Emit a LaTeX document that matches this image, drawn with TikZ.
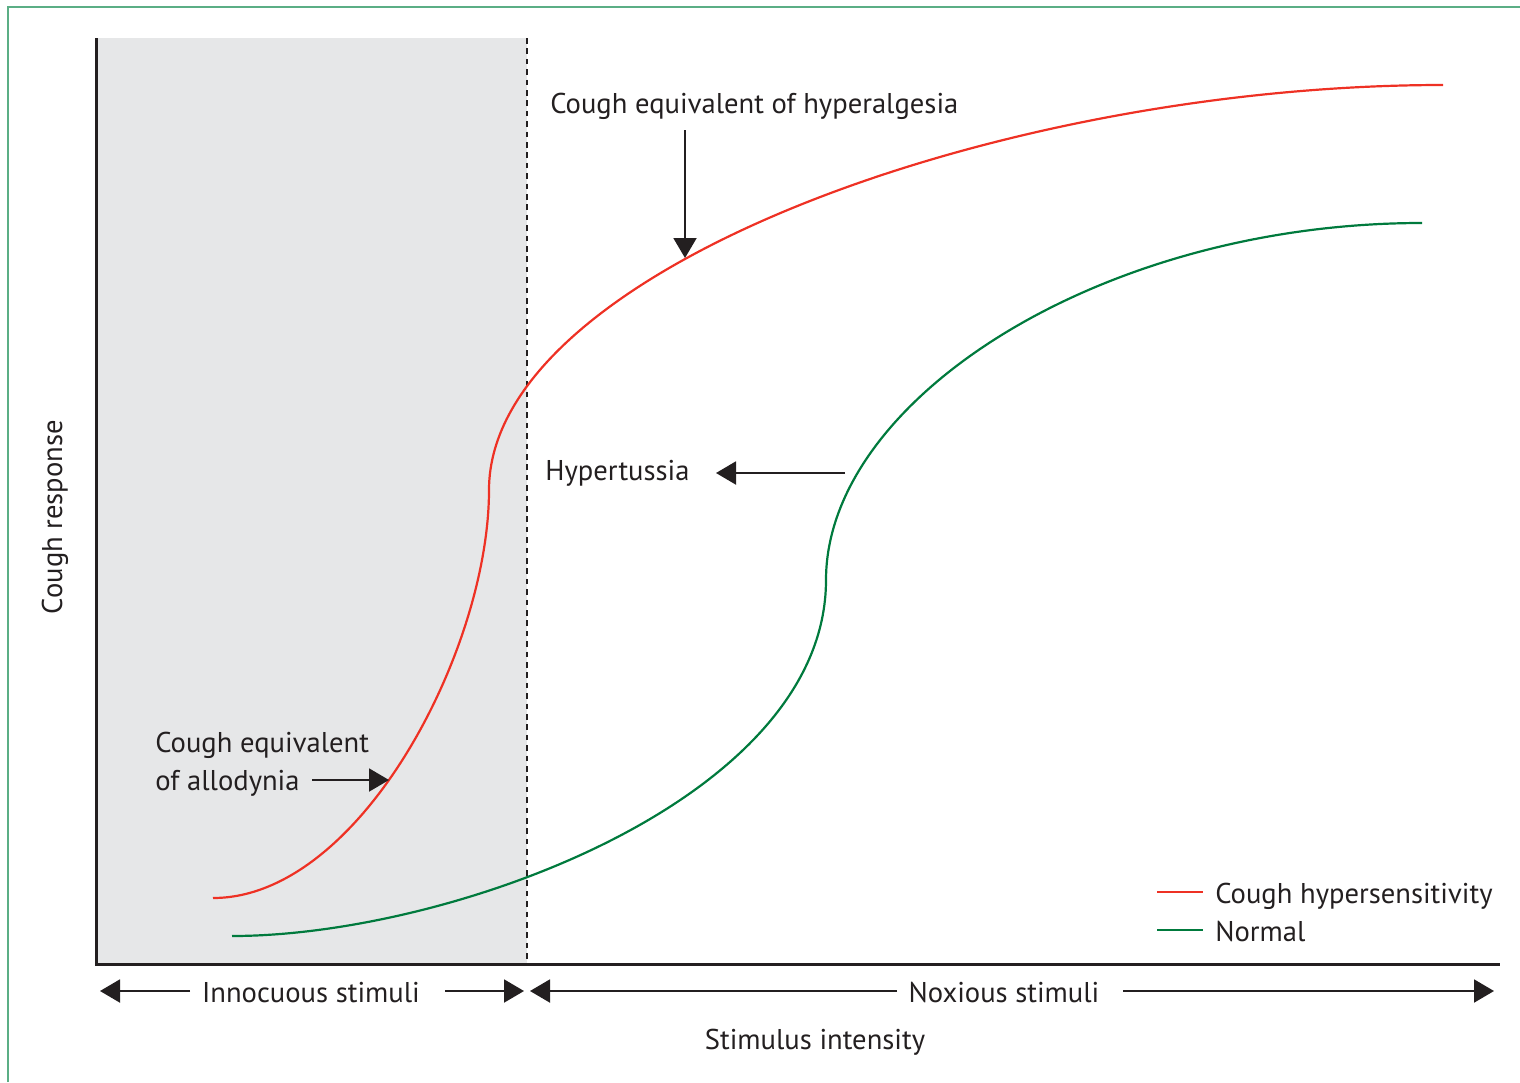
\documentclass[tikz,border=0pt]{standalone}
\usepackage{fontspec}
\setmainfont{PT Sans}
\usetikzlibrary{arrows.meta, positioning}

\definecolor{framegreen}{HTML}{5BAE85}
\definecolor{zonegrey}{HTML}{E6E7E8}
\definecolor{hyperred}{HTML}{EE3124}
\definecolor{normalgreen}{HTML}{007A3D}
\definecolor{ink}{HTML}{231F20}

\tikzset{
	lbl/.style={inner sep=0pt, text=ink, font=\fontsize{14.3}{19}\selectfont},
	axisline/.style={draw=ink, line width=1.5pt},
	pointer/.style={draw=ink, line width=1pt, -{Triangle[length=10pt, width=11.5pt]}},
	curve/.style={line width=1.1pt},
}

\begin{document}
\begin{tikzpicture}[x=0.5pt, y=-0.5pt]
		\useasboundingbox (0,0) rectangle (1520,1082);
		\draw[framegreen, line width=1pt] (8,1082) -- (8,7) -- (1520,7);

		% grey innocuous region and axes
		\fill[zonegrey] (96,38) rectangle (527,964);
		\coordinate (ytop) at (96,38);
		\coordinate (origin) at (96,964);
		\coordinate (xend) at (1500,964);
		\path[axisline] (ytop) -- (origin) -- (xend);
		\coordinate (divtop) at (527,38);
		\coordinate (divbot) at (527,964);
		\path[draw=ink, line width=1.4pt, dash pattern=on 2.8pt off 2.4pt] (divtop) -- (divbot);

		% response curves
		\draw[hyperred, curve] (213,898) .. controls (360,898) and (489,650) .. (489,490)
			.. controls (489,270) and (1000,85) .. (1443,85);
		\draw[normalgreen, curve] (232,936) .. controls (450,936) and (826,800) .. (826,580)
			.. controls (826,400) and (1100,223) .. (1422,223);

		% annotations
		\node (hyperalg) [lbl, anchor=base west] at (550,113) {Cough equivalent of hyperalgesia};
		\coordinate (hyperalgtail) at (685,130);
		\coordinate (hyperalgtip) at (685,258);
		\path[pointer] (hyperalgtail) -- (hyperalgtip);

		\node (hypertussia) [lbl, anchor=base west] at (545,480) {Hypertussia};
		\coordinate (hypertussiatail) at (845,473);
		\coordinate (hypertussiatip) at (716,473);
		\path[pointer] (hypertussiatail) -- (hypertussiatip);

		\node (allodyniaone) [lbl, anchor=base west] at (155,752) {Cough equivalent};
		\node (allodyniatwo) [lbl, anchor=base west] at (155,790) {of allodynia};
		\coordinate (allodyniatail) at (312,780);
		\coordinate (allodyniatip) at (389,780);
		\path[pointer] (allodyniatail) -- (allodyniatip);

		% stimulus ranges
		\node (innocuous) [lbl, anchor=base] at (311,1002) {Innocuous stimuli};
		\coordinate (innoleft) at (190,991);
		\coordinate (innolefttip) at (100,991);
		\coordinate (innoright) at (445,991);
		\coordinate (innorighttip) at (524,991);
		\path[pointer] (innoleft) -- (innolefttip);
		\path[pointer] (innoright) -- (innorighttip);

		\node (noxious) [lbl, anchor=base] at (1004,1002) {Noxious stimuli};
		\coordinate (noxleft) at (897,991);
		\coordinate (noxlefttip) at (530,991);
		\coordinate (noxright) at (1123,991);
		\coordinate (noxrighttip) at (1494,991);
		\path[pointer] (noxleft) -- (noxlefttip);
		\path[pointer] (noxright) -- (noxrighttip);

		\node (xlabel) [lbl, anchor=base] at (815,1049) {Stimulus intensity};
		\node (ylabel) [lbl, anchor=base, rotate=90] at (62,517) {Cough response};

		% legend
		\coordinate (keyhyperA) at (1157,892);
		\coordinate (keyhyperB) at (1203,892);
		\draw[hyperred, line width=1pt] (keyhyperA) -- (keyhyperB);
		\node (keyhyper) [lbl, anchor=base west] at (1215,903) {Cough hypersensitivity};
		\coordinate (keynormA) at (1157,930);
		\coordinate (keynormB) at (1203,930);
		\draw[normalgreen, line width=1pt] (keynormA) -- (keynormB);
		\node (keynorm) [lbl, anchor=base west] at (1215,941) {Normal};
	\end{tikzpicture}
\end{document}
